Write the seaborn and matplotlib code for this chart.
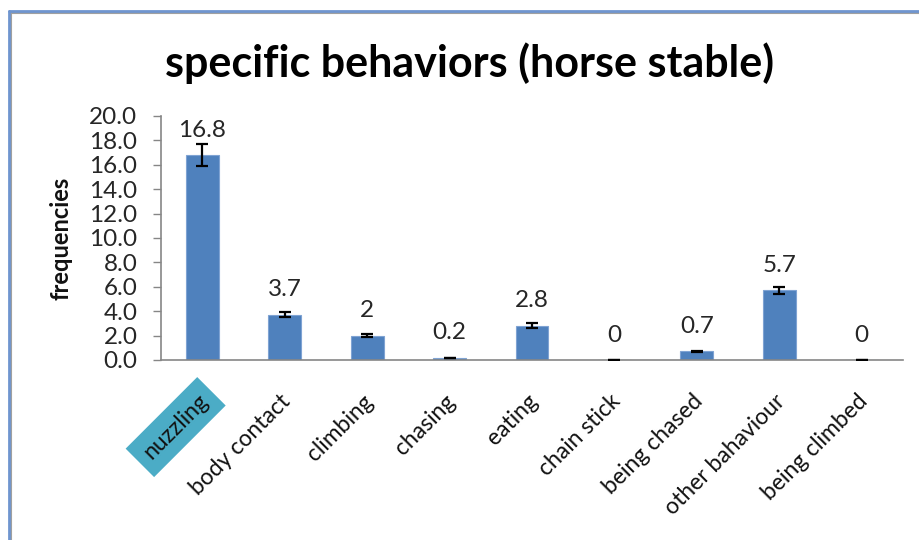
import matplotlib
matplotlib.use("Agg")
import matplotlib.pyplot as plt
import seaborn as sns
import pandas as pd
from matplotlib.lines import Line2D

categories = ["nuzzling", "body contact", "climbing", "chasing", "eating",
              "chain stick", "being chased", "other bahaviour", "being climbed"]
values = [16.8, 3.7, 2.0, 0.2, 2.8, 0.0, 0.7, 5.7, 0.0]
errors = [0.9, 0.2, 0.1, 0.0, 0.2, 0.0, 0.05, 0.3, 0.0]
value_labels = ["16.8", "3.7", "2", "0.2", "2.8", "0", "0.7", "5.7", "0"]
y_ticks = [0, 2, 4, 6, 8, 10, 12, 14, 16, 18, 20]

sns.set_theme(style="white")
plt.rcParams["font.family"] = ["Lato", "DejaVu Sans"]

df = pd.DataFrame({"behavior": categories, "freq": values})

fig = plt.figure(figsize=(9.2, 5.4), dpi=100)
ax = fig.add_axes([161/920, 1-360/540, (903-161)/920, (360-116)/540])

sns.barplot(data=df, x="behavior", y="freq", order=categories, color="#4F81BD",
            width=0.4, saturation=1, errorbar=None, edgecolor="#7FA3D3", linewidth=0.8, ax=ax)

ax.errorbar(range(len(categories)), values, yerr=errors, fmt="none", ecolor="black",
            elinewidth=1.6, capsize=4.2, capthick=1.6, zorder=5)

for i, (v, lab) in enumerate(zip(values, value_labels)):
    ax.annotate(lab, (i, v), xytext=(0, 18), textcoords="offset points",
                ha="center", va="center", fontsize=17.5, color="#262626")

ax.set_ylim(0, 20)
ax.set_xlim(-0.5, len(categories) - 0.5)
ax.set_yticks(y_ticks)
ax.set_yticklabels([f"{t:.1f}" for t in y_ticks], fontsize=17.5, color="#262626")
ax.tick_params(axis="y", which="both", left=True, length=6, width=1, color="#868686", pad=11)
ax.tick_params(axis="x", bottom=False, pad=6)
for s in ["top", "right"]:
    ax.spines[s].set_visible(False)
for s in ["left", "bottom"]:
    ax.spines[s].set_color("#868686")
    ax.spines[s].set_linewidth(1.2)

ax.set_xticks(range(len(categories)))
ax.set_xticklabels(categories, rotation=45, ha="right", rotation_mode="anchor",
                   fontsize=16.5, color="#111111")
for lbl in ax.get_xticklabels():
    lbl.set_transform(lbl.get_transform() + matplotlib.transforms.ScaledTranslation(-5/100, -14/100, fig.dpi_scale_trans))
ax.get_xticklabels()[0].set_bbox(dict(facecolor="#4BACC6", edgecolor="none", pad=7))

ax.set_xlabel("")
ax.set_ylabel("frequencies", fontsize=17, fontweight="bold", labelpad=12, color="#111111")

fig.text(470/920, 1-63/540, "specific behaviors (horse stable)", ha="center", va="center",
         fontsize=31, fontweight="bold", color="#000000")

# outer frame
fig.add_artist(Line2D([11/920, 1.01], [1-13/540, 1-13/540], color="#A0A0A0", lw=1.5, transform=fig.transFigure))
fig.add_artist(Line2D([11/920, 11/920], [-0.01, 1-13/540], color="#A0A0A0", lw=1.5, transform=fig.transFigure))
fig.add_artist(Line2D([9/920, 1.01], [1-11/540, 1-11/540], color="#6F95CF", lw=2, transform=fig.transFigure))
fig.add_artist(Line2D([9/920, 9/920], [-0.01, 1-11/540], color="#6F95CF", lw=2, transform=fig.transFigure))

fig.savefig("out.png", dpi=100, facecolor="white")
